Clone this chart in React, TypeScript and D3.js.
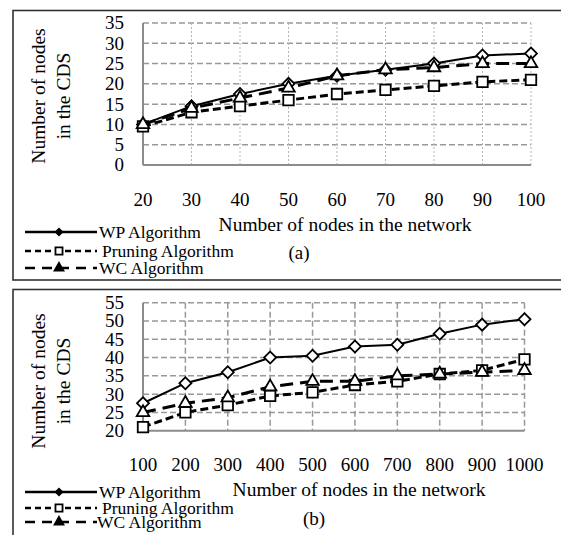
import { useEffect, useRef } from "react";
import * as d3 from "d3";

// panel (a)
const nodesA = [20, 30, 40, 50, 60, 70, 80, 90, 100];
const wpA = [10, 14.5, 17.5, 20, 22, 23.5, 25, 27, 27.5];
const pruningA = [9.5, 13, 14.5, 16, 17.5, 18.5, 19.5, 20.5, 21];
const wcA = [10, 14, 16.5, 19, 22, 23.5, 24, 25, 25];
const yTicksA = [0, 5, 10, 15, 20, 25, 30, 35];

// panel (b)
const nodesB = [100, 200, 300, 400, 500, 600, 700, 800, 900, 1000];
const wpB = [27.5, 33, 36, 40, 40.5, 43, 43.5, 46.5, 49, 50.5];
const pruningB = [21, 25, 27, 29.5, 30.5, 32.5, 33.5, 35.5, 36.5, 39.5];
const wcB = [25, 27.5, 29, 32, 33.5, 33.5, 35, 35.5, 36, 36.5];
const yTicksB = [20, 25, 30, 35, 40, 45, 50, 55];

const seriesNames = ["WP Algorithm", "Pruning Algorithm", "WC Algorithm"];

const FONT = "'Liberation Serif', 'Times New Roman', serif";

function drawPanel(svg, p) {
  const g = svg.append("g");

  // frame
  g.append("rect")
    .attr("x", 13)
    .attr("y", p.boxTop)
    .attr("width", 560)
    .attr("height", p.boxHeight)
    .attr("fill", "none")
    .attr("stroke", "#333")
    .attr("stroke-width", 1.6);

  const x = d3.scalePoint().domain(p.nodes).range([p.left, p.right]);
  const y = d3
    .scaleLinear()
    .domain([p.ticks[0], p.ticks[p.ticks.length - 1]])
    .range([p.bottom, p.top]);

  // grid
  g.selectAll(".hgrid")
    .data(p.ticks.slice(1))
    .enter()
    .append("line")
    .attr("x1", p.left)
    .attr("x2", p.right)
    .attr("y1", (d) => y(d))
    .attr("y2", (d) => y(d))
    .attr("stroke", "#999")
    .attr("stroke-width", 1.5)
    .attr("stroke-dasharray", "6,3");

  g.selectAll(".vgrid")
    .data(p.nodes.slice(1))
    .enter()
    .append("line")
    .attr("x1", (d) => x(d))
    .attr("x2", (d) => x(d))
    .attr("y1", p.top)
    .attr("y2", p.bottom)
    .attr("stroke", p.dottedV ? "#b5b5b5" : "#999")
    .attr("stroke-width", p.dottedV ? 1 : 1.5)
    .attr("stroke-dasharray", p.dottedV ? "2,2" : "6,3");

  // axes
  g.append("line")
    .attr("x1", p.left)
    .attr("x2", p.left)
    .attr("y1", p.top)
    .attr("y2", p.bottom)
    .attr("stroke", "#8c8c8c")
    .attr("stroke-width", 2);
  g.append("line")
    .attr("x1", p.left)
    .attr("x2", p.right)
    .attr("y1", p.bottom)
    .attr("y2", p.bottom)
    .attr("stroke", "#8c8c8c")
    .attr("stroke-width", 2);

  // tick labels
  g.selectAll(".ylab")
    .data(p.ticks)
    .enter()
    .append("text")
    .attr("x", 124)
    .attr("y", (d) => y(d))
    .attr("dy", "0.34em")
    .attr("text-anchor", "end")
    .attr("font-family", FONT)
    .attr("font-size", 19)
    .text((d) => d);

  g.selectAll(".xlab")
    .data(p.nodes)
    .enter()
    .append("text")
    .attr("x", (d) => x(d))
    .attr("y", p.xLabelY)
    .attr("text-anchor", "middle")
    .attr("font-family", FONT)
    .attr("font-size", 19)
    .text((d) => d);

  // axis titles
  g.append("text")
    .attr("x", p.xTitleX)
    .attr("y", p.xTitleY)
    .attr("text-anchor", "middle")
    .attr("font-family", FONT)
    .attr("font-size", 19.5)
    .text("Number of nodes in the network");

  g.append("text")
    .attr("x", p.tagX)
    .attr("y", p.tagY)
    .attr("text-anchor", "middle")
    .attr("font-family", FONT)
    .attr("font-size", 19)
    .text(p.tag);

  ["Number of nodes", "in the CDS"].forEach((t, i) => {
    g.append("text")
      .attr("transform", `translate(${38 + i * 25}, ${p.yTitleY}) rotate(-90)`)
      .attr("text-anchor", "middle")
      .attr("dy", "0.35em")
      .attr("font-family", FONT)
      .attr("font-size", 19.5)
      .text(t);
  });

  // series
  const styles = [
    { dash: null, width: 2, symbol: d3.symbolSquare, size: 72, rot: 45 },
    { dash: "8,4", width: 3, symbol: d3.symbolSquare, size: 110, rot: 0 },
    { dash: "13,7", width: 3, symbol: d3.symbolTriangle, size: 68, rot: 0 },
  ];
  const line = d3
    .line()
    .x((d) => x(d[0]))
    .y((d) => y(d[1]));

  p.series.forEach((vals, i) => {
    const s = styles[i];
    const pts = p.nodes.map((n, j) => [n, vals[j]]);
    g.append("path")
      .attr("d", line(pts))
      .attr("fill", "none")
      .attr("stroke", "#000")
      .attr("stroke-width", s.width)
      .attr("stroke-dasharray", s.dash);
    g.selectAll(".m" + i)
      .data(pts)
      .enter()
      .append("path")
      .attr("d", d3.symbol(s.symbol, s.size)())
      .attr(
        "transform",
        (d) => `translate(${x(d[0])}, ${y(d[1])}) rotate(${s.rot})`
      )
      .attr("fill", "#fff")
      .attr("stroke", "#000")
      .attr("stroke-width", 1.8);
  });

  // legend
  const legendMarks = [
    { symbol: d3.symbolSquare, size: 22, rot: 45, fill: "#000" },
    { symbol: d3.symbolSquare, size: 50, rot: 0, fill: "#fff" },
    { symbol: d3.symbolTriangle, size: 34, rot: 0, fill: "#000" },
  ];
  const legendDash = [null, "6,4", "10,7"];
  seriesNames.forEach((name, i) => {
    const ly = p.legendY[i];
    g.append("line")
      .attr("x1", 25)
      .attr("x2", 97)
      .attr("y1", ly)
      .attr("y2", ly)
      .attr("stroke", "#000")
      .attr("stroke-width", 2.5)
      .attr("stroke-dasharray", legendDash[i]);
    const m = legendMarks[i];
    g.append("path")
      .attr("d", d3.symbol(m.symbol, m.size)())
      .attr("transform", `translate(59, ${ly}) rotate(${m.rot})`)
      .attr("fill", m.fill)
      .attr("stroke", "#000")
      .attr("stroke-width", 1.8);
    g.append("text")
      .attr("x", p.legendTextX[i])
      .attr("y", ly)
      .attr("dy", "0.32em")
      .attr("font-family", FONT)
      .attr("font-size", 17.5)
      .text(name);
  });
}

export default function App() {
  const ref = useRef(null);

  useEffect(() => {
    const svg = d3.select(ref.current);
    svg.selectAll("*").remove();

    drawPanel(svg, {
      boxTop: 10.5,
      boxHeight: 269.5,
      nodes: nodesA,
      ticks: yTicksA,
      series: [wpA, pruningA, wcA],
      left: 143,
      right: 531,
      top: 23,
      bottom: 165,
      dottedV: true,
      xLabelY: 206,
      xTitleX: 345,
      xTitleY: 231,
      tag: "(a)",
      tagX: 299,
      tagY: 259,
      yTitleY: 96,
      legendY: [232, 251, 268],
      legendTextX: [99, 102, 99],
    });

    drawPanel(svg, {
      boxTop: 289.5,
      boxHeight: 300,
      nodes: nodesB,
      ticks: yTicksB,
      series: [wpB, pruningB, wcB],
      left: 143,
      right: 524.5,
      top: 302.7,
      bottom: 430.7,
      dottedV: false,
      xLabelY: 471,
      xTitleX: 359,
      xTitleY: 496,
      tag: "(b)",
      tagX: 314,
      tagY: 525,
      yTitleY: 381,
      legendY: [492, 508, 522],
      legendTextX: [99, 102, 97],
    });
  }, []);

  return (
    <svg
      ref={ref}
      width={561}
      height={535}
      style={{ position: "absolute", left: 0, top: 0, background: "#fff" }}
    />
  );
}
